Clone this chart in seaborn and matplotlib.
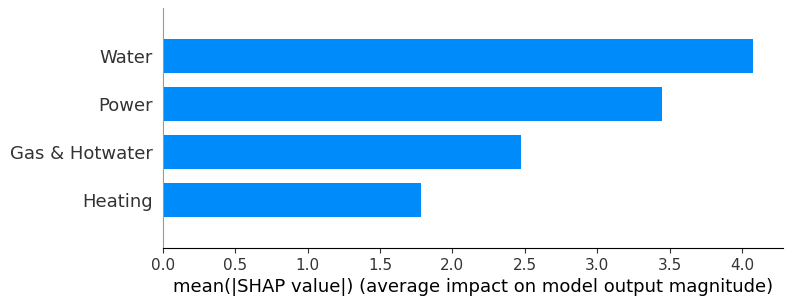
import pandas as pd
import seaborn as sns
import matplotlib
matplotlib.use("Agg")
import matplotlib.pyplot as plt

features = ["Water", "Power", "Gas & Hotwater", "Heating"]
mean_abs_shap = [4.08, 3.45, 2.475, 1.785]

df = pd.DataFrame({"feature": features, "value": mean_abs_shap})

fig = plt.figure(figsize=(7.92, 3.06), dpi=100)
ax = fig.add_axes([0.2058, 0.1895, 0.7828, 0.784])

sns.barplot(data=df, x="value", y="feature", order=features, orient="h",
            color="#008bfb", saturation=1, width=0.7, ax=ax)

ax.set_ylim(len(features), -1)
ax.set_xlim(0, None)
ax.set_xlabel("mean(|SHAP value|) (average impact on model output magnitude)", fontsize=13)
ax.set_ylabel("")
ax.tick_params(axis="y", length=0, pad=7, labelsize=13, labelcolor="#333333")
ax.tick_params(axis="x", labelsize=11, color="#333333", labelcolor="#333333")
ax.spines["top"].set_visible(False)
ax.spines["right"].set_visible(False)
ax.spines["left"].set_color("#999999")

fig.savefig("out.png", dpi=100)
